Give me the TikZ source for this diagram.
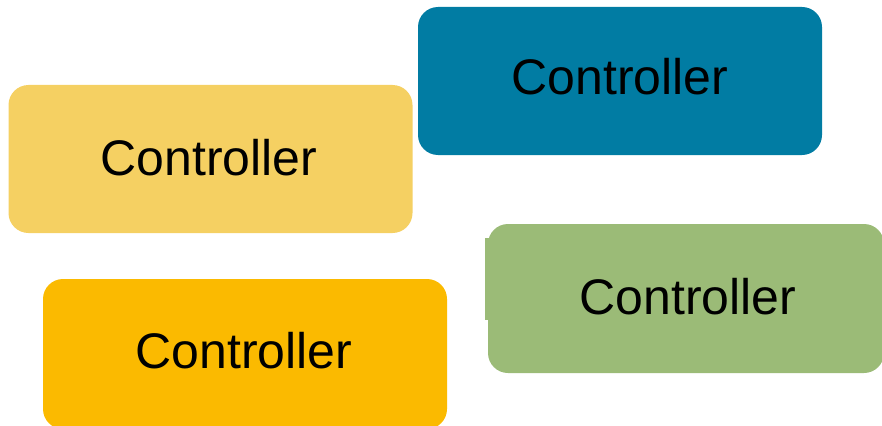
\documentclass[tikz,border=0pt]{standalone}
\usepackage{fontspec}
\setmainfont{Liberation Sans}
\definecolor{sand}{HTML}{F5D062}
\definecolor{teal}{HTML}{017CA3}
\definecolor{amber}{HTML}{FBBA00}
\definecolor{sage}{HTML}{9BBB77}
\begin{document}
\begin{tikzpicture}[x=1pt,y=-1pt,
  ctrlbox/.style={rectangle, rounded corners=20pt, draw=none, inner sep=0pt,
    minimum width=404pt, minimum height=148pt},
  ctrltext/.style={anchor=base, inner sep=0pt, font=\fontsize{50}{60}\selectfont, text=black}]
  \useasboundingbox (0,0) rectangle (882,425);
  \clip (0,0) rectangle (882,425);
  % four controller boxes
  \node[ctrlbox, fill=sand]  (sandbox)  at (210.5,159) {};
  \node[ctrlbox, fill=teal]  (tealbox)  at (620,81) {};
  \node[ctrlbox, fill=amber, minimum height=150pt] (amberbox) at (245,354) {};
  \node[ctrlbox, fill=sage, minimum width=396pt, minimum height=149pt] (sagebox) at (686,298.5) {};
  \fill[sage] (485,238) rectangle (490,320);
  % labels
  \node[ctrltext] (sandtxt)  at (209,175) {Controller};
  \node[ctrltext] (tealtxt)  at (620,95) {Controller};
  \node[ctrltext] (ambertxt) at (244,368) {Controller};
  \node[ctrltext] (sagetxt)  at (688,314) {Controller};
\end{tikzpicture}
\end{document}
